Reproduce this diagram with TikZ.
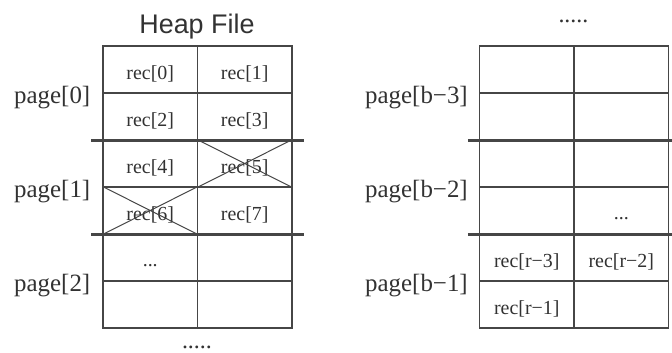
\documentclass[tikz,border=0pt]{standalone}
\usepackage{fontspec}
\setmainfont{Liberation Serif}
\newfontfamily\headfont{Liberation Sans}
\usetikzlibrary{positioning}
\definecolor{GridGray}{RGB}{70, 70, 70}
\definecolor{TextGray}{RGB}{50, 50, 50}

\begin{document}
\begin{tikzpicture}[x=1bp, y=-1bp,
	cell/.style={draw=GridGray, line width=1.1bp, minimum width=94.5bp, minimum height=47bp, inner sep=0pt},
	rec/.style={inner sep=0pt, text=TextGray, font=\fontsize{20}{20}\selectfont, yshift=-4.5bp},
	lbl/.style={inner sep=0pt, text=TextGray, font=\fontsize{25}{25}\selectfont, yshift=-4bp},
	more/.style={inner sep=0pt, text=TextGray, font=\fontsize{24}{24}\selectfont, anchor=base},
	sep/.style={GridGray, line width=2.2bp},
	cross/.style={GridGray, line width=1bp}]
	\useasboundingbox (0,0) rectangle (672,352);
	% the two grids of slots
	\foreach \r in {1,...,6}
		\foreach \c in {1,2} {
			\node[cell] (L-\r-\c) at (55.75+94.5*\c, 22.5+47*\r) {};
			\node[cell] (R-\r-\c) at (432.25+94.5*\c, 22.5+47*\r) {};
		}
	\node[text=TextGray, font=\headfont\fontsize{27}{27}\selectfont, inner sep=0pt, anchor=base] (title) at (L-1-2.north west |- 0,33) {Heap File};
	% records
	\foreach \n/\r/\c in {0/1/1, 1/1/2, 2/2/1, 3/2/2, 4/3/1, 5/3/2, 6/4/1, 7/4/2}
		\node[rec] (rec\n) at (L-\r-\c) {rec[\n]};
	\node[rec, yshift=-4bp] (ldots) at (L-5-1) {...};
	\node[rec, yshift=-4bp] (rdots) at (R-4-2) {...};
	\node[rec] (recr3) at (R-5-1) {rec[r−3]};
	\node[rec] (recr2) at (R-5-2) {rec[r−2]};
	\node[rec] (recr1) at (R-6-1) {rec[r−1]};
	% deleted records
	\draw[cross] (L-3-2.north west) -- (L-3-2.south east) (L-3-2.north east) -- (L-3-2.south west);
	\draw[cross] (L-4-1.north west) -- (L-4-1.south east) (L-4-1.north east) -- (L-4-1.south west);
	% page boundaries
	\foreach \r in {2,4} {
		\draw[sep] ([xshift=-11bp]L-\r-1.south west) -- ([xshift=11bp]L-\r-2.south east);
		\draw[sep] ([xshift=-11bp]R-\r-1.south west) -- ([xshift=4bp]R-\r-2.south east);
	}
	% page labels
	\node[lbl, left=12bp of L-1-1.south west] (p0) {page[0]};
	\node[lbl, left=12bp of L-3-1.south west] (p1) {page[1]};
	\node[lbl, left=12bp of L-5-1.south west] (p2) {page[2]};
	\node[lbl, left=11bp of R-1-1.south west] (pb3) {page[b−3]};
	\node[lbl, left=11bp of R-3-1.south west] (pb2) {page[b−2]};
	\node[lbl, left=11bp of R-5-1.south west] (pb1) {page[b−1]};
	\node[more] (topmore) at (R-1-2.north west |- 0,22) {.....};
	\node[more] (botmore) at (L-6-2.south west |- 0,348) {.....};
\end{tikzpicture}
\end{document}
